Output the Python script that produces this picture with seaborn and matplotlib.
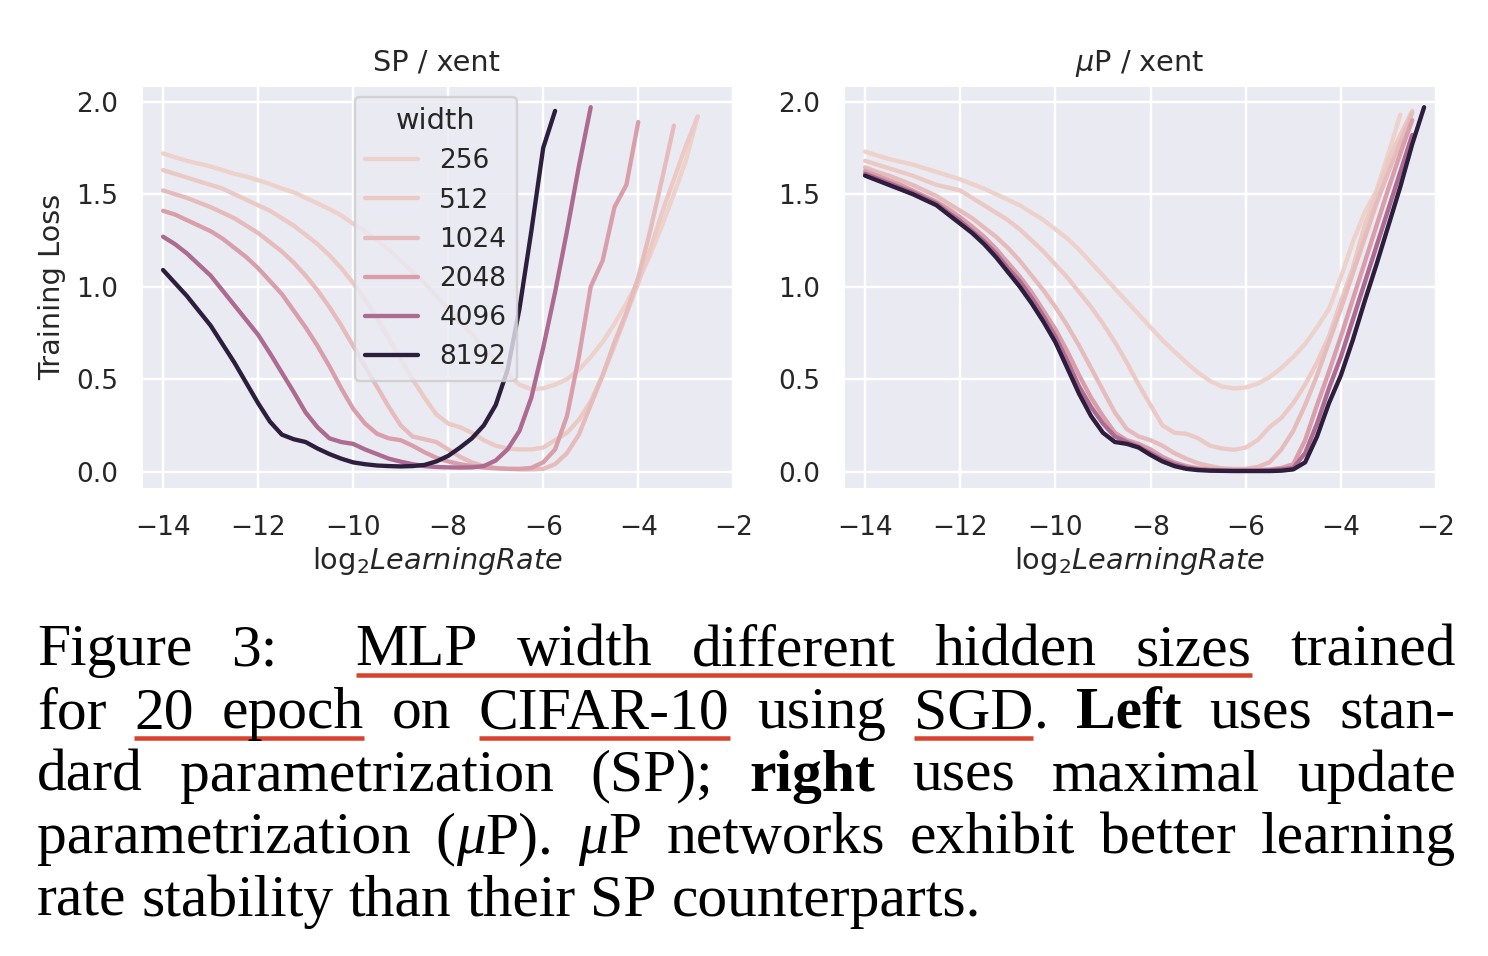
import numpy as np
import pandas as pd
import matplotlib
matplotlib.use('Agg')
import matplotlib.pyplot as plt
from matplotlib.lines import Line2D
import seaborn as sns

# data: log2 learning rate grid and training loss per width
lr = np.arange(-14, -2.0, 0.25)
widths = [256, 512, 1024, 2048, 4096, 8192]
nan = np.nan

sp_256 = [1.72, 1.70, 1.68, 1.665, 1.65, 1.63, 1.61, 1.595,
          1.575, 1.555, 1.53, 1.51, 1.48, 1.45, 1.42, 1.385,
          1.34, 1.30, 1.25, 1.20, 1.14, 1.08, 1.02, 0.95,
          0.88, 0.81, 0.74, 0.67, 0.60, 0.53, 0.47, 0.445,
          0.45, 0.47, 0.50, 0.55, 0.62, 0.70, 0.80, 0.91,
          1.03, 1.17, 1.33, 1.50, 1.68, 1.92, nan, nan]
sp_512 = [1.63, 1.61, 1.59, 1.57, 1.55, 1.53, 1.50, 1.47,
          1.44, 1.41, 1.37, 1.33, 1.28, 1.23, 1.17, 1.10,
          1.02, 0.93, 0.83, 0.72, 0.61, 0.50, 0.40, 0.31,
          0.26, 0.24, 0.21, 0.17, 0.14, 0.125, 0.12, 0.12,
          0.13, 0.17, 0.21, 0.28, 0.38, 0.52, 0.68, 0.85,
          1.02, 1.20, 1.40, 1.58, 1.76, 1.92, nan, nan]
sp_1024 = [1.52, 1.50, 1.48, 1.455, 1.43, 1.40, 1.37, 1.33,
           1.29, 1.24, 1.19, 1.13, 1.06, 0.98, 0.89, 0.79,
           0.68, 0.57, 0.46, 0.35, 0.25, 0.19, 0.175, 0.16,
           0.12, 0.08, 0.05, 0.03, 0.02, 0.015, 0.012, 0.012,
           0.015, 0.04, 0.10, 0.20, 0.36, 0.52, 0.70, 0.86,
           1.05, 1.30, 1.58, 1.87, nan, nan, nan, nan]
sp_2048 = [1.41, 1.39, 1.36, 1.33, 1.30, 1.26, 1.21, 1.16,
           1.10, 1.03, 0.96, 0.87, 0.78, 0.68, 0.57, 0.45,
           0.34, 0.26, 0.205, 0.18, 0.17, 0.14, 0.105, 0.075,
           0.055, 0.04, 0.03, 0.022, 0.018, 0.015, 0.015, 0.02,
           0.05, 0.12, 0.30, 0.62, 1.00, 1.14, 1.43, 1.55,
           1.89, nan, nan, nan, nan, nan, nan, nan]
sp_4096 = [1.27, 1.23, 1.18, 1.12, 1.06, 0.98, 0.90, 0.82,
           0.74, 0.64, 0.535, 0.43, 0.32, 0.24, 0.18, 0.16,
           0.15, 0.12, 0.095, 0.07, 0.054, 0.04, 0.03, 0.025,
           0.023, 0.022, 0.023, 0.03, 0.06, 0.12, 0.22, 0.40,
           0.67, 0.97, 1.30, 1.65, 1.97, nan, nan, nan,
           nan, nan, nan, nan, nan, nan, nan, nan]
sp_8192 = [1.09, 1.02, 0.95, 0.87, 0.79, 0.69, 0.59, 0.48,
           0.37, 0.27, 0.20, 0.175, 0.16, 0.125, 0.095, 0.07,
           0.05, 0.04, 0.033, 0.03, 0.028, 0.03, 0.036, 0.055,
           0.085, 0.13, 0.18, 0.25, 0.36, 0.55, 0.88, 1.30,
           1.75, 1.95, nan, nan, nan, nan, nan, nan,
           nan, nan, nan, nan, nan, nan, nan, nan]

mup_256 = [1.73, 1.71, 1.69, 1.675, 1.66, 1.64, 1.62, 1.60,
           1.58, 1.555, 1.53, 1.50, 1.47, 1.44, 1.40, 1.36,
           1.31, 1.26, 1.20, 1.13, 1.06, 0.99, 0.92, 0.85,
           0.78, 0.71, 0.65, 0.59, 0.535, 0.49, 0.46, 0.45,
           0.455, 0.475, 0.51, 0.56, 0.62, 0.69, 0.78, 0.88,
           1.05, 1.24, 1.40, 1.52, 1.72, 1.93, nan, nan]
mup_512 = [1.68, 1.66, 1.64, 1.62, 1.60, 1.575, 1.55, 1.535,
           1.52, 1.48, 1.44, 1.40, 1.36, 1.31, 1.25, 1.19,
           1.12, 1.05, 0.97, 0.89, 0.80, 0.70, 0.59, 0.47,
           0.36, 0.25, 0.21, 0.205, 0.18, 0.14, 0.125, 0.118,
           0.13, 0.17, 0.24, 0.29, 0.37, 0.47, 0.59, 0.73,
           0.92, 1.10, 1.33, 1.50, 1.68, 1.82, 1.95, nan]
mup_1024 = [1.645, 1.62, 1.60, 1.575, 1.55, 1.52, 1.49, 1.45,
            1.41, 1.37, 1.32, 1.27, 1.21, 1.14, 1.06, 0.98,
            0.89, 0.79, 0.68, 0.56, 0.44, 0.32, 0.23, 0.19,
            0.17, 0.14, 0.10, 0.07, 0.045, 0.03, 0.018, 0.015,
            0.015, 0.025, 0.05, 0.12, 0.22, 0.36, 0.52, 0.70,
            0.88, 1.07, 1.26, 1.45, 1.62, 1.78, 1.94, nan]
mup_2048 = [1.625, 1.60, 1.575, 1.55, 1.52, 1.49, 1.46, 1.42,
            1.375, 1.325, 1.27, 1.205, 1.13, 1.055, 0.97, 0.87,
            0.77, 0.65, 0.52, 0.40, 0.30, 0.21, 0.17, 0.15,
            0.12, 0.08, 0.05, 0.03, 0.018, 0.012, 0.009, 0.008,
            0.008, 0.009, 0.012, 0.02, 0.04, 0.17, 0.36, 0.54,
            0.73, 0.93, 1.13, 1.33, 1.53, 1.72, 1.90, nan]
mup_4096 = [1.61, 1.585, 1.56, 1.535, 1.51, 1.48, 1.45, 1.40,
            1.355, 1.30, 1.245, 1.18, 1.10, 1.03, 0.94, 0.84,
            0.73, 0.60, 0.46, 0.35, 0.26, 0.19, 0.16, 0.135,
            0.10, 0.065, 0.04, 0.022, 0.012, 0.008, 0.006, 0.005,
            0.005, 0.005, 0.007, 0.012, 0.02, 0.10, 0.26, 0.45,
            0.62, 0.82, 1.02, 1.22, 1.42, 1.62, 1.82, nan]
mup_8192 = [1.60, 1.575, 1.55, 1.525, 1.50, 1.47, 1.44, 1.39,
            1.34, 1.29, 1.23, 1.16, 1.08, 1.00, 0.91, 0.81,
            0.70, 0.56, 0.42, 0.30, 0.21, 0.16, 0.15, 0.13,
            0.09, 0.055, 0.03, 0.015, 0.008, 0.005, 0.004, 0.003,
            0.003, 0.003, 0.003, 0.005, 0.012, 0.05, 0.19, 0.37,
            0.52, 0.71, 0.92, 1.12, 1.33, 1.54, 1.77, 1.97]

sp_losses = [sp_256, sp_512, sp_1024, sp_2048, sp_4096, sp_8192]
mup_losses = [mup_256, mup_512, mup_1024, mup_2048, mup_4096, mup_8192]


def long_form(losses):
    frames = []
    for w, vals in zip(widths, losses):
        frames.append(pd.DataFrame({'lr': lr, 'loss': vals, 'width': w}))
    return pd.concat(frames).dropna()


sp_df = long_form(sp_losses)
mup_df = long_form(mup_losses)

sns.set_theme(context='notebook', style='darkgrid')
plt.rcParams['font.family'] = ['DejaVu Sans']

W, H = 1488, 956
dpi = 172.8
fig = plt.figure(figsize=(W / dpi, H / dpi), dpi=dpi)
ax1 = fig.add_axes([140.7 / W, 1 - 489 / H, 592.6 / W, 404 / H])
ax2 = fig.add_axes([842.7 / W, 1 - 489 / H, 593.3 / W, 404 / H])

sns.lineplot(data=sp_df, x='lr', y='loss', hue='width', legend='full', lw=1.8, ax=ax1)
sns.lineplot(data=mup_df, x='lr', y='loss', hue='width', legend=False, lw=1.8, ax=ax2)

for ax, title in [(ax1, 'SP / xent'), (ax2, r'$\mu$P / xent')]:
    ax.set_xlim(-14.47, -2.0)
    ax.set_ylim(-0.094, 2.09)
    ax.set_xticks([-14, -12, -10, -8, -6, -4, -2])
    ax.tick_params(axis='x', pad=4.7)
    ax.set_title(title)
    ax.set_xlabel(r'$\mathrm{log}_2LearningRate$', labelpad=2)
    ax.set_ylabel('')
ax1.set_ylabel('Training Loss')

sns.move_legend(ax1, 'upper left', bbox_to_anchor=(0.339, 1.004), title='width')
for h in ax1.get_legend().get_lines():
    h.set_linewidth(1.8)

# caption, justified like the paper text
N, B, I = 'normal', 'bold', 'italic'
caption_lines = [
    [[('Figure', N, 0)], [('3:', N, 0)], [('MLP', N, 1)], [('width', N, 1)], [('different', N, 1)],
     [('hidden', N, 1)], [('sizes', N, 1)], [('trained', N, 0)]],
    [[('for', N, 0)], [('20', N, 2)], [('epoch', N, 2)], [('on', N, 0)], [('CIFAR-10', N, 3)],
     [('using', N, 0)], [('SGD', N, 4), ('.', N, 0)], [('Left', B, 0)], [('uses', N, 0)], [('stan-', N, 0)]],
    [[('dard', N, 0)], [('parametrization', N, 0)], [('(SP);', N, 0)], [('right', B, 0)],
     [('uses', N, 0)], [('maximal', N, 0)], [('update', N, 0)]],
    [[('parametrization', N, 0)], [('(', N, 0), ('μ', I, 0), ('P).', N, 0)], [('μ', I, 0), ('P', N, 0)],
     [('networks', N, 0)], [('exhibit', N, 0)], [('better', N, 0)], [('learning', N, 0)]],
    [[('rate', N, 0)], [('stability', N, 0)], [('than', N, 0)], [('their', N, 0)], [('SP', N, 0)],
     [('counterparts.', N, 0)]],
]
baselines = [665, 728, 790.5, 853, 915.5]
cap_left, cap_right = 37, 1456
cap_size = 24.8
em_px = cap_size * dpi / 72
style_kw = {N: {}, B: {'fontweight': 'bold'}, I: {'fontstyle': 'italic'}}

renderer = fig.canvas.get_renderer()
for li, words in enumerate(caption_lines):
    y = 1 - baselines[li] / H
    placed = []
    word_w = []
    for word in words:
        segs = []
        for text, st, grp in word:
            t = fig.text(0, y, text, family='Liberation Serif', size=cap_size, color='black',
                         va='baseline', ha='left', **style_kw[st])
            segs.append([t, t.get_window_extent(renderer).width, grp])
        placed.append(segs)
        word_w.append(sum(s[1] for s in segs))
    weights = [1.0] * (len(words) - 1)
    if li == 0:
        weights[1] = 2.0
    if li == len(caption_lines) - 1:
        gap = 0.25 * em_px
    else:
        gap = (cap_right - cap_left - sum(word_w)) / sum(weights)
    x = cap_left
    spans = {}
    for wi, segs in enumerate(placed):
        for t, w, grp in segs:
            t.set_position((x / W, y))
            if grp:
                lo, hi = spans.get(grp, (x, x + w))
                spans[grp] = (min(lo, x), max(hi, x + w))
            x += w
        if wi < len(weights):
            x += gap * weights[wi]
    for lo, hi in spans.values():
        yl = 1 - (baselines[li] + 10) / H
        fig.add_artist(Line2D([lo / W, hi / W], [yl, yl], transform=fig.transFigure,
                              color='#d9432e', lw=4.5 * 72 / dpi, solid_capstyle='butt'))

fig.savefig('out.png', dpi=dpi)
